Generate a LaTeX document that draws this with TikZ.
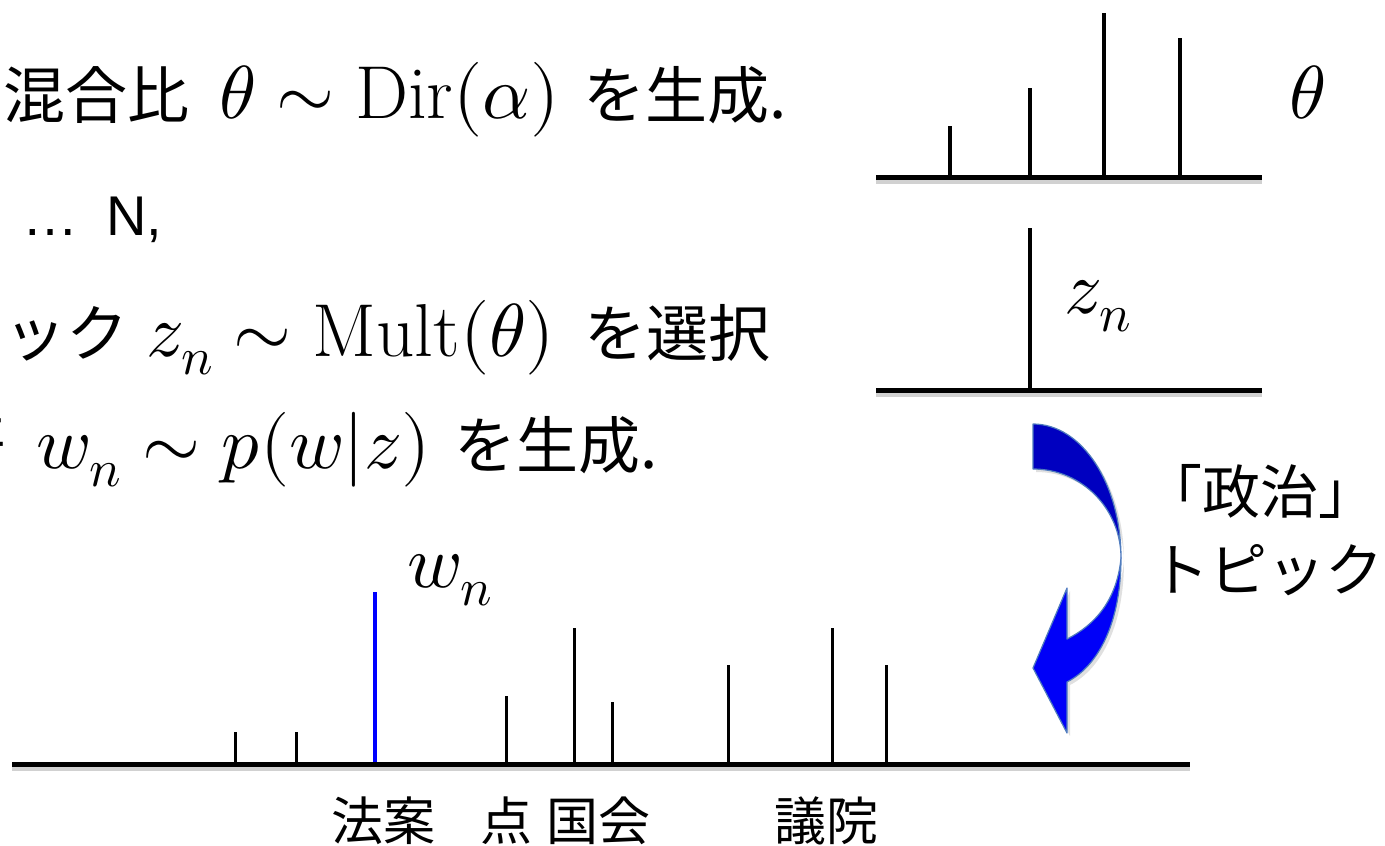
\documentclass[tikz,border=0pt]{standalone}
\usepackage{fontspec}
\usepackage{unicode-math}
\setmathfont{Latin Modern Math}
\newfontfamily\jp{Noto Sans CJK JP}
\newfontfamily\hv{Liberation Sans}
\definecolor{arrdark}{RGB}{0,0,192}
\definecolor{arrlight}{RGB}{0,0,248}
\definecolor{arredge}{RGB}{80,125,190}
\definecolor{wblue}{RGB}{0,0,255}
\newcommand\mbig[1]{{\fontsize{75}{80}\selectfont$#1$}}
\begin{document}
\begin{tikzpicture}[x=1pt,y=-1pt,
  axisline/.style={line width=5pt,black},
  shadowline/.style={line width=5pt,black!18},
  tstick/.style={line width=4.5pt,black},
  wstick/.style={line width=3pt,black},
  bluestick/.style={line width=3.5pt,wblue},
  mainline/.style={anchor=base west,inner sep=0pt,font=\jp\fontsize{62}{70}\selectfont},
  wordlab/.style={anchor=base,inner sep=0pt,font=\jp\fontsize{52}{60}\selectfont},
  topiclab/.style={anchor=center,inner sep=0pt,font=\jp\fontsize{58}{66}\selectfont},
  mathlab/.style={anchor=center,inner sep=0pt,font=\fontsize{75}{80}\selectfont},
  arrowpart/.style={draw=arredge,line width=1.2pt,line join=round},
  arrowshadow/.style={fill=black!12}]
\useasboundingbox (0,0) rectangle (1385,846);

% ---------- text lines ----------
\node[mainline] (l1) at (3,118) {混合比\kern30pt\mbig{\theta\sim\mathrm{Dir}(\alpha)}\kern24pt を生成.};
\node[mainline,font=\hv\fontsize{56}{60}\selectfont] (l2) at (22,235) {…\kern28pt N,};
\node[mainline] (l3) at (4,356) {ック\kern18pt\mbig{z_n\sim\mathrm{Mult}(\theta)}\kern30pt を選択};
\node[mainline,anchor=base east] (l4a) at (6,468) {語};
\node[mainline] (l4) at (36,468) {\mbig{w_n\sim p(w|z)}\kern24pt を生成.};

% ---------- theta chart ----------
\coordinate (ta) at (876,177);
\coordinate (tb) at (1262,177);
\draw[shadowline] ([yshift=-4pt]ta) -- ([yshift=-4pt]tb);
\foreach \x/\t in {950/126,1030/88,1104/13,1180/38}
  \draw[tstick] (\x,\t) -- (\x,177);
\draw[axisline] (ta) -- (tb);
\node[mathlab] (thetalab) at (1308,92) {$\theta$};

% ---------- z chart ----------
\coordinate (za) at (876,390);
\coordinate (zb) at (1262,390);
\draw[shadowline] ([yshift=-4pt]za) -- ([yshift=-4pt]zb);
\draw[tstick] (1030,228) -- (1030,390);
\draw[axisline] (za) -- (zb);
\node[mathlab] (zlab) at (1098,306) {$z_n$};

% ---------- word chart ----------
\coordinate (wa) at (12,764);
\coordinate (wb) at (1190,764);
\draw[shadowline] ([yshift=-4pt]wa) -- ([yshift=-4pt]wb);
\foreach \x/\t in {235/732,296/732,506/696,574/628,612/702,728/665,832/628,886/665}
  \draw[wstick] (\x,\t) -- (\x,764);
\draw[bluestick] (375,592) -- (375,764);
\draw[axisline] (wa) -- (wb);
\node[mathlab] (wlab) at (450,580) {$w_n$};

\node[wordlab] (w1) at (383,840) {法案};
\node[wordlab] (w2) at (506,840) {点};
\node[wordlab] (w3) at (598,840) {国会};
\node[wordlab] (w4) at (826,840) {議院};

% ---------- curved arrow ----------
\begin{scope}[shift={(3,3)}]
\fill[arrowshadow] (1033,424) .. controls (1082,424) and (1121,484) .. (1121,558)
  .. controls (1121,509) and (1082,469) .. (1033,469) -- cycle;
\fill[arrowshadow] (1121,558) .. controls (1121,620) and (1100,665) .. (1067,682)
  -- (1067,733) -- (1033,668) -- (1067,588) -- (1067,639)
  .. controls (1095,625) and (1117,600) .. (1121,558) -- cycle;
\end{scope}
\draw[arrowpart,fill=arrdark] (1033,424) .. controls (1082,424) and (1121,484) .. (1121,558)
  .. controls (1121,509) and (1082,469) .. (1033,469) -- cycle;
\draw[arrowpart,fill=arrlight] (1121,558) .. controls (1121,620) and (1100,665) .. (1067,682)
  -- (1067,733) -- (1033,668) -- (1067,588) -- (1067,639)
  .. controls (1095,625) and (1117,600) .. (1121,558) -- cycle;

\node[topiclab] (t1) at (1260,491) {「政治」};
\node[topiclab] (t2) at (1267,570) {トピック};
\end{tikzpicture}
\end{document}
